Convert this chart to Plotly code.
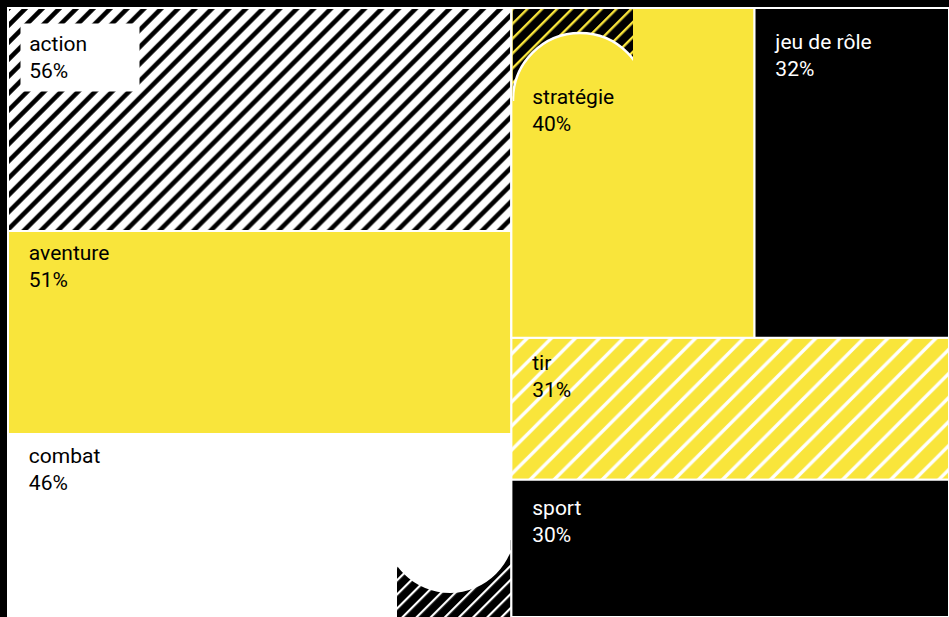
import base64
import plotly.graph_objects as go

# ---- data ----
genres = ["action", "aventure", "combat", "stratégie", "jeu de rôle", "tir", "sport"]
values = [56, 51, 46, 40, 32, 31, 30]
# layout grouping of the tiles (structure only, no values of their own)
root_label = "genres"
groups = ["gauche", "droite", "haut-droite"]
group_parents = [root_label, root_label, "droite"]
genre_parents = ["gauche", "gauche", "gauche", "haut-droite", "haut-droite", "droite", "droite"]

# ---- styles ----
YELLOW = "#F9E53B"
fill_colors = ["#FFFFFF", YELLOW, "#FFFFFF", YELLOW, "#000000", YELLOW, "#000000"]
text_colors = ["rgba(0,0,0,0)", "#000000", "#000000", "#000000", "#FFFFFF", "#000000", "#FFFFFF"]
pattern_shapes = ["/", "", "", "", "", "/", ""]
pattern_fg = ["#000000", YELLOW, "#FFFFFF", YELLOW, "#000000", "#FFFFFF", "#000000"]
pattern_size = [12, 10, 10, 10, 10, 17, 10]
pattern_solidity = [0.38, 0.3, 0.3, 0.3, 0.3, 0.2, 0.3]
# label vertical placement: blank lines + size of an invisible spacer on the first line
blank_lines = [0, 0, 0, 2, 0, 0, 0]
spacer_size = [21, 28, 28, 41, 41, 31, 34]
boxed_label = [True, False, False, False, False, False, False]

FONT = "Roboto"
FS = 21
IND = "\u2002\u2004"
HIDDEN = "rgba(0,0,0,0)"


def make_template(blanks, spacer, boxed):
    if boxed:
        return " "
    sp = '<span style="font-size:%dpx">\u00a0</span>' % spacer
    lines = ["\u00a0"] * blanks + [IND + "%{label}", IND + "%{value}%"]
    lines[0] = lines[0] + sp
    return "<br>".join(lines)


n_struct = 1 + len(groups)
templates = [make_template(b, s, x) for b, s, x in zip(blank_lines, spacer_size, boxed_label)]

fig = go.Figure(go.Treemap(
    labels=[root_label] + groups + genres,
    parents=[""] + group_parents + genre_parents,
    values=[0] * n_struct + values,
    branchvalues="remainder",
    sort=False,
    texttemplate=[" "] * n_struct + templates,
    textposition="top left",
    textfont=dict(family=FONT, size=FS, color=[HIDDEN] * n_struct + text_colors),
    marker=dict(
        colors=["#000000"] * n_struct + fill_colors,
        line=dict(color="#FFFFFF", width=2),
        pad=dict(t=0, l=0, r=0, b=0),
        pattern=dict(shape=[""] * n_struct + pattern_shapes,
                     fgcolor=["#000000"] * n_struct + pattern_fg,
                     bgcolor=["#000000"] * n_struct + fill_colors,
                     size=[10] * n_struct + pattern_size,
                     solidity=[0.3] * n_struct + pattern_solidity,
                     fillmode="replace"),
    ),
    tiling=dict(packing="slice-dice", pad=0),
    pathbar=dict(visible=False),
    hoverinfo="skip",
))

# decorative jigsaw-like hatched corners (drawn as an overlay image)
svg = f'''<svg xmlns="http://www.w3.org/2000/svg" width="941" height="609" viewBox="8 8 941 609" preserveAspectRatio="none">
<defs>
<pattern id="hy" patternUnits="userSpaceOnUse" width="10.5" height="10.5" patternTransform="rotate(45)">
<rect x="0" y="0" width="10.5" height="10.5" fill="#000"/><rect x="0" y="0" width="2.4" height="10.5" fill="{YELLOW}"/></pattern>
<pattern id="hw" patternUnits="userSpaceOnUse" width="10" height="10" patternTransform="rotate(45)">
<rect x="0" y="0" width="10" height="10" fill="#000"/><rect x="0" y="0" width="2.2" height="10" fill="#FFF"/></pattern>
<clipPath id="c1"><rect x="512.6" y="9" width="120.4" height="92"/></clipPath>
<clipPath id="c2"><rect x="397" y="540" width="113.4" height="77"/></clipPath>
</defs>
<g clip-path="url(#c1)">
<path fill-rule="evenodd" fill="url(#hy)" d="M512.6,9 H633 V101 H512.6 Z M513,100 a67,67 0 1,0 134,0 a67,67 0 1,0 -134,0 Z"/>
<circle cx="580" cy="100" r="67" fill="none" stroke="#FFF" stroke-width="2.5"/>
</g>
<g clip-path="url(#c2)">
<path fill-rule="evenodd" fill="url(#hw)" d="M397,540 H510.4 V617 H397 Z M385,528 a65,65 0 1,0 130,0 a65,65 0 1,0 -130,0 Z"/>
</g>
</svg>'''
src = "data:image/svg+xml;base64," + base64.b64encode(svg.encode("utf-8")).decode("ascii")
fig.add_layout_image(dict(source=src, xref="paper", yref="paper", x=0, y=1,
                          sizex=1, sizey=1, xanchor="left", yanchor="top",
                          sizing="stretch", layer="above"))

# label box for the boxed tile (white background behind its text)
for g, v, boxed in zip(genres, values, boxed_label):
    if boxed:
        fig.add_annotation(
            text="\u200a" + g + "<br>\u200a" + f"{v}%",
            xref="paper", yref="paper", x=12 / 941, y=1 - 15 / 609,
            xanchor="left", yanchor="top", align="left", valign="middle",
            showarrow=False, bgcolor="#FFFFFF", borderpad=6, width=106, height=55,
            font=dict(family=FONT, size=FS, color="#000000"),
        )

fig.update_layout(
    width=949, height=617,
    margin=dict(l=8, r=0, t=8, b=0),
    paper_bgcolor="#000000",
    plot_bgcolor="#000000",
    showlegend=False,
)

fig.write_html(
    "out.html",
    config={"displayModeBar": False},
    post_script="document.body.style.margin='0';document.body.style.background='#000';",
)
